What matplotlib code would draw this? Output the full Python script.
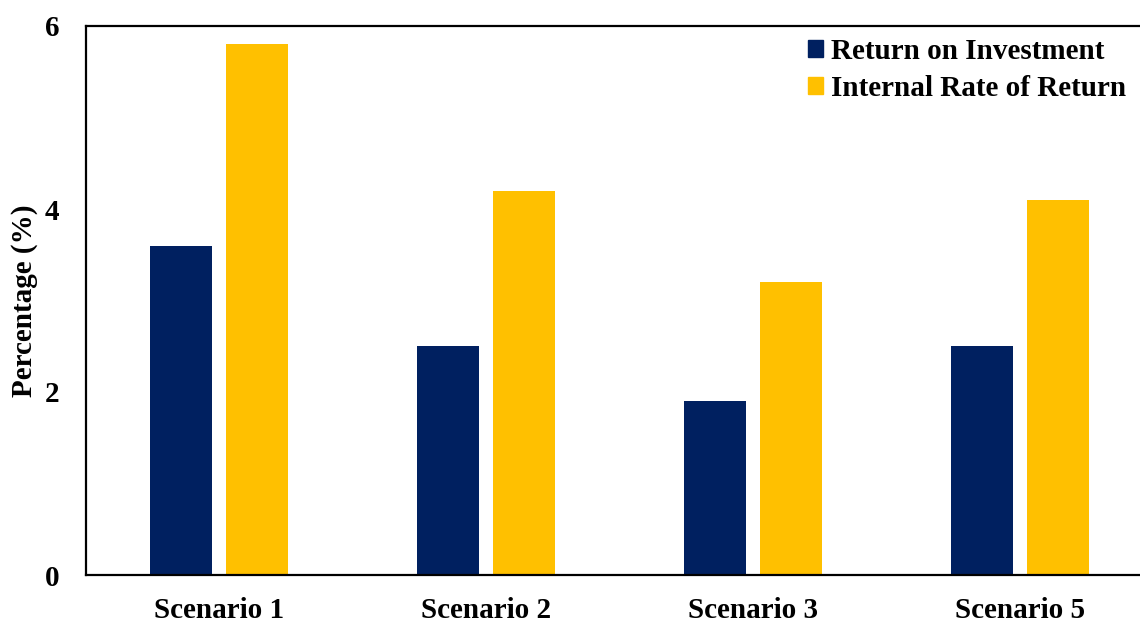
import matplotlib
matplotlib.use("Agg")
import matplotlib.pyplot as plt
import numpy as np
from matplotlib.patches import Patch

scenarios = ["Scenario 1", "Scenario 2", "Scenario 3", "Scenario 5"]
roi = [3.6, 2.5, 1.9, 2.5]
irr = [5.8, 4.2, 3.2, 4.1]
yticks = [0, 2, 4, 6]

navy = "#002060"
gold = "#FFC000"

plt.rcParams["font.family"] = ["Liberation Serif", "DejaVu Serif"]
plt.rcParams["font.weight"] = "bold"

fig = plt.figure(figsize=(11.4, 6.22), dpi=100)
ax = fig.add_axes([86 / 1140, 1 - 575 / 622, 1067 / 1140, 549 / 622])

x = np.arange(len(scenarios))
w = 0.2325
off = 0.1425
ax.bar(x - off, roi, width=w, color=navy)
ax.bar(x + off, irr, width=w, color=gold)

ax.set_xlim(-0.5, len(scenarios) - 0.5)
ax.set_ylim(0, 6)
ax.set_yticks(yticks)
ax.set_yticklabels([str(t) for t in yticks], fontsize=21, fontweight="bold")
ax.set_xticks(x)
ax.set_xticklabels(scenarios, fontsize=21, fontweight="bold")
ax.tick_params(axis="both", length=0)
ax.tick_params(axis="y", pad=19)
ax.tick_params(axis="x", pad=16)
ax.set_ylabel("Percentage (%)", fontsize=21, fontweight="bold")
ax.yaxis.set_label_coords(-0.045, 0.499)

for s in ax.spines.values():
    s.set_linewidth(1.6)
    s.set_color("black")

handles = [Patch(color=navy, label="Return on Investment"),
           Patch(color=gold, label="Internal Rate of Return")]
leg = ax.legend(handles=handles, loc="upper right", bbox_to_anchor=(1140 / 1153 - 0.0026, 1.0),
                frameon=False, prop={"family": "Liberation Serif", "weight": "bold", "size": 21},
                handlelength=0.5, handleheight=0.55, handletextpad=0.3, labelspacing=0.35,
                borderaxespad=0.0)

fig.savefig("out.png", dpi=100)
